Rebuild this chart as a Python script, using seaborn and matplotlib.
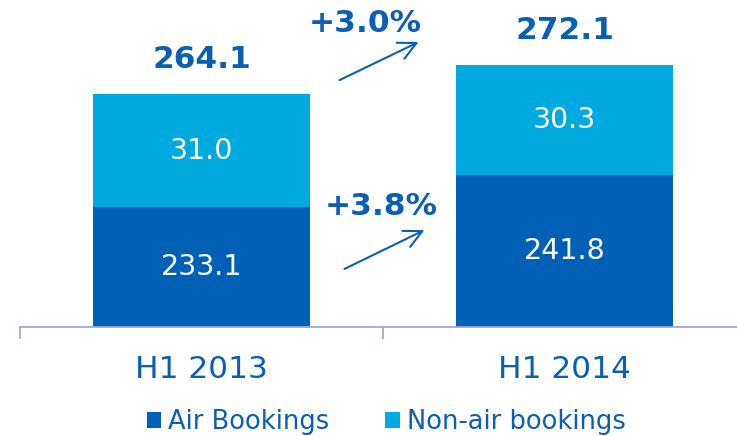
import matplotlib
matplotlib.use("Agg")
import matplotlib.pyplot as plt
import seaborn as sns
import pandas as pd
from matplotlib.patches import Patch

# ---- data ----
periods = ["H1 2013", "H1 2014"]
air = [233.1, 241.8]
non_air = [31.0, 30.3]
totals = [264.1, 272.1]
growth_total = "+3.0%"
growth_air = "+3.8%"
series_names = ["Air Bookings", "Non-air bookings"]

DARK = "#0060B6"
LIGHT = "#00A9E0"
TXT = "#0A5EB4"
AXC = "#9AAAD6"

sns.set_theme(style="white")
plt.rcParams["font.family"] = ["DejaVu Sans"]

df = pd.DataFrame({"period": periods, "air": air, "non_air": non_air,
                   "total": [a + n for a, n in zip(air, non_air)]})

fig = plt.figure(figsize=(7.37, 4.36), dpi=100)
ax = fig.add_axes([20 / 737, 109 / 436, 726 / 737, 327 / 436])

sns.barplot(data=df, x="period", y="total", order=periods, color=LIGHT,
            width=0.6, saturation=1, linewidth=0, edgecolor="none", ax=ax)
sns.barplot(data=df, x="period", y="air", order=periods, color=DARK,
            width=0.6, saturation=1, linewidth=0, edgecolor="none", ax=ax)

ax.set_xlim(-0.5, 1.5)
ax.set_ylim(200, 200 + 327 / 3.63)
ax.set_xlabel("")
ax.set_ylabel("")
ax.set_yticks([])
for s in ["top", "right", "left"]:
    ax.spines[s].set_visible(False)
ax.spines["bottom"].set_color(AXC)
ax.spines["bottom"].set_linewidth(1.3)

ax.set_xticks([-0.5, 0.5, 1.5], minor=True)
ax.tick_params(axis="x", which="minor", length=8.5, width=1.3, color=AXC,
               direction="out", bottom=True)
ax.tick_params(axis="x", which="major", length=0, pad=20, labelsize=22.5,
               labelcolor=TXT)

# segment labels
for i in range(len(periods)):
    ax.text(i, (200 + air[i]) / 2, f"{air[i]:.1f}", ha="center",
            va="center", color="white", fontsize=20.5)
    ax.text(i, air[i] + non_air[i] / 2, f"{non_air[i]:.1f}", ha="center",
            va="center", color="white", fontsize=20.5)
    ax.annotate(f"{totals[i]:.1f}", xy=(i, air[i] + non_air[i]),
                xytext=(0, 19), textcoords="offset points", ha="center",
                va="baseline", color=TXT, fontsize=22.5, fontweight="bold")

# growth annotations
ax.text(0.452, 283.7, growth_total, ha="center", va="center", color=TXT,
        fontsize=22.5, fontweight="bold")
ax.text(0.496, 233.1, growth_air, ha="center", va="center", color=TXT,
        fontsize=22.5, fontweight="bold")
arrow_kw = dict(arrowstyle="->", lw=1.5, color=TXT, mutation_scale=32,
                shrinkA=0, shrinkB=0)
ax.annotate("", xy=(0.598, 278.5), xytext=(0.380, 268.0), arrowprops=arrow_kw)
ax.annotate("", xy=(0.614, 226.7), xytext=(0.394, 216.0), arrowprops=arrow_kw)

handles = [Patch(facecolor=DARK, edgecolor="none"),
           Patch(facecolor=LIGHT, edgecolor="none")]
leg = fig.legend(handles, series_names, loc="center", ncol=2,
                 bbox_to_anchor=(386 / 737, 0.032), frameon=False,
                 fontsize=18.5, handlelength=0.55, handleheight=0.55,
                 handletextpad=0.27, columnspacing=2.2, borderpad=0)
for t in leg.get_texts():
    t.set_color(TXT)

fig.savefig("out.png", dpi=100)
